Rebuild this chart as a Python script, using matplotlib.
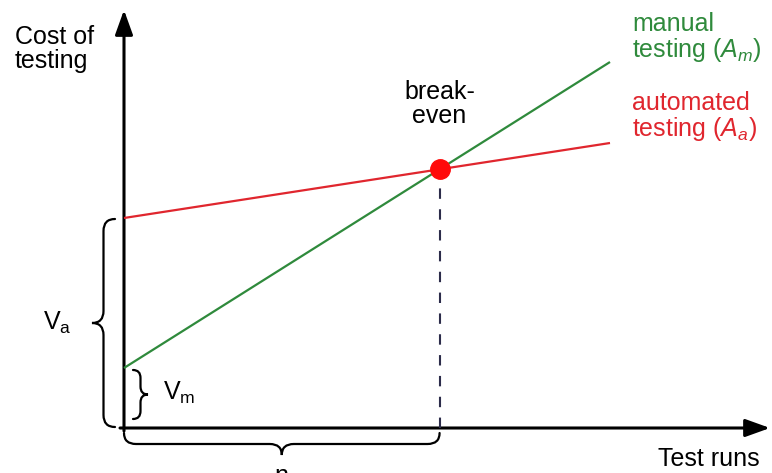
import numpy as np
import matplotlib
matplotlib.use("Agg")
import matplotlib.pyplot as plt
from matplotlib.path import Path
from matplotlib.patches import PathPatch, FancyArrowPatch

plt.rcParams['font.family'] = ['Liberation Sans', 'DejaVu Sans']
plt.rcParams['mathtext.fontset'] = 'custom'
plt.rcParams['mathtext.rm'] = 'Liberation Sans'
plt.rcParams['mathtext.it'] = 'Liberation Sans:italic'

# Daten (Testlaeufe gegen Kosten, willkuerliche Einheiten)
runs = [0.0, 48.6]
cost_automated = [21.0, 28.5]   # V_a + A_a * n
cost_manual = [6.0, 36.6]       # V_m + A_m * n
x_label = "Test runs"
y_label = "Cost of\ntesting"

GREEN = "#2f8a3c"
RED = "#e0262e"


def brace(ax, p0, p1, h, r, lw=1.6):
    """Geschweifte Klammer von p0 nach p1, Spitze um h seitlich versetzt
    (rechts der Laufrichtung)."""
    p0, p1 = np.array(p0, float), np.array(p1, float)
    L = np.linalg.norm(p1 - p0)
    u = (p1 - p0) / L
    v = np.array([u[1], -u[0]])
    pts_uv = [(0, 0), (0, h / 2), (r, h / 2),
              (L / 2 - r, h / 2),
              (L / 2, h / 2), (L / 2, h),
              (L / 2, h / 2), (L / 2 + r, h / 2),
              (L - r, h / 2),
              (L, h / 2), (L, 0)]
    codes = [Path.MOVETO, Path.CURVE3, Path.CURVE3, Path.LINETO,
             Path.CURVE3, Path.CURVE3, Path.CURVE3, Path.CURVE3,
             Path.LINETO, Path.CURVE3, Path.CURVE3]
    verts = [p0 + a * u + b * v for a, b in pts_uv]
    ax.add_patch(PathPatch(Path(verts, codes), fill=False, lw=lw,
                           color="black", capstyle="round"))


fig = plt.figure(figsize=(7.72, 4.73), dpi=100)
ax = fig.add_axes([0, 0, 1, 1])
ax.set_xlim(-12.4, 64.8)
ax.set_ylim(-4.5, 42.8)
ax.axis("off")

# Achsen mit Pfeilen
for start, end in [((0, -0.3), (0, 41.8)), ((-0.4, 0), (64.6, 0))]:
    ax.add_patch(FancyArrowPatch(start, end, lw=2.2, color="black",
                                 arrowstyle="-|>,head_length=0.75,head_width=0.27",
                                 mutation_scale=20, shrinkA=0, shrinkB=0))

# Kostengeraden
ax.plot(runs, cost_manual, color=GREEN, lw=1.6, solid_capstyle="butt")
ax.plot(runs, cost_automated, color=RED, lw=1.6, solid_capstyle="butt")

# Break-even Punkt
slope_m = (cost_manual[1] - cost_manual[0]) / (runs[1] - runs[0])
slope_a = (cost_automated[1] - cost_automated[0]) / (runs[1] - runs[0])
be_x = (cost_automated[0] - cost_manual[0]) / (slope_m - slope_a)
be_y = cost_manual[0] + slope_m * be_x
ax.plot([be_x, be_x], [0, be_y], color="#2c2c4a", lw=1.5, ls=(0, (5, 5)))
ax.plot(be_x, be_y, "o", color="#ff0a0a", ms=14, zorder=5)

# Klammern
brace(ax, (-0.9, cost_automated[0] - 0.1), (-0.9, 0.1), 2.3, 1.2)
brace(ax, (0.9, 0.9), (0.9, cost_manual[0] - 0.2), 1.5, 0.8)
brace(ax, (0.0, -0.5), (be_x, -0.5), 2.2, 1.2)

fs = 18
ax.text(-10.9, 40.3, y_label, fontsize=fs, ha="left", va="top", linespacing=1.0)
ax.text(53.4, -1.9, x_label, fontsize=fs, ha="left", va="top")
ax.text(be_x, be_y + 8.9, "break-\neven", fontsize=fs, ha="center", va="top",
        linespacing=1.0)
ax.text(50.8, 41.6, "manual\ntesting ($A_{m}$)", fontsize=fs, color=GREEN,
        ha="left", va="top", linespacing=1.0)
ax.text(50.8, 33.7, "automated\ntesting ($A_{a}$)", fontsize=fs, color=RED,
        ha="left", va="top", linespacing=1.0)
ax.text(-6.7, cost_automated[0] / 2, r"V$_\mathrm{a}$", fontsize=fs,
        ha="center", va="center")
ax.text(3.9, 3.5, r"V$_\mathrm{m}$", fontsize=fs, ha="left", va="center")
# Beschriftung unter der Klammer, im Original am Bildrand abgeschnitten
ax.text(be_x / 2, -3.6, "n", fontsize=fs, ha="center", va="top")

fig.savefig("out.png", dpi=100)
